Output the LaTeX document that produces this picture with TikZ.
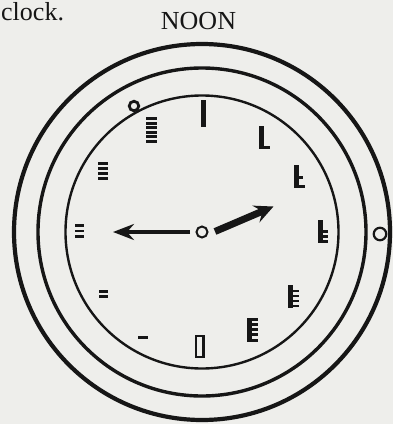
\documentclass[tikz,border=0pt]{standalone}
\usepackage{fontspec}
\setmainfont{Liberation Serif}
\usetikzlibrary{arrows.meta}
\definecolor{paper}{RGB}{238,238,235}
\definecolor{ink}{RGB}{22,22,22}
\begin{document}
\begin{tikzpicture}[x=1pt,y=-1pt,
  ring/.style={draw=ink},
  markfill/.style={fill=ink},
  hand/.style={draw=ink, line cap=butt},
  label/.style={font=\fontsize{26}{30}\selectfont, text=ink, inner sep=0pt}]
\useasboundingbox (0,0) rectangle (393,424);
\fill[paper] (0,0) rectangle (393,424);
% texts
\node[label, anchor=base west] (clocktxt) at (1,20) {clock.};
\node[label, anchor=base] (noon) at (198.5,29) {NOON};
% rings
\coordinate (c) at (202,232);
\draw[ring, line width=4.2] (c) circle[radius=188];
\draw[ring, line width=3.4] (c) circle[radius=164];
\draw[ring, line width=2.4] (c) circle[radius=136.5];
% small circles on rings
\node[circle, draw=ink, line width=2.8, minimum size=9.5, inner sep=0pt] (knobtl) at (134,106) {};
\node[circle, draw=ink, line width=2.2, minimum size=12.5, inner sep=0pt] (knobr) at (380,234) {};
% hour marks
% 12
\fill[markfill] (200.5,100) rectangle (205.5,127);
% 1
\fill[markfill] (259,126) rectangle (264,149);
\fill[markfill] (259,145.5) rectangle (270,149);
% 2
\fill[markfill] (294,165) rectangle (299,188);
\fill[markfill] (294,176) rectangle (303,179);
\fill[markfill] (294,184.5) rectangle (305,188);
% 3
\fill[markfill] (318,220) rectangle (323,243);
\foreach \yy in {230,235.2,240.4} \fill[markfill] (318,\yy) rectangle (327.5,\yy+2.6);
% 4
\fill[markfill] (288,285) rectangle (293,308);
\foreach \yy in {289.5,294.6,299.7,304.8} \fill[markfill] (288,\yy) rectangle (299,\yy+2.6);
% 5
\fill[markfill] (247,318) rectangle (252,342);
\foreach \yy in {318,323.1,328.2,333.3,339.2} \fill[markfill] (247,\yy) rectangle (258,\yy+2.8);
% 6
\draw[ink, line width=2.8] (196,336) rectangle (203.5,357);
% 7
\fill[markfill] (138,336) rectangle (148,339);
% 8
\foreach \yy in {290,295} \fill[markfill] (99,\yy) rectangle (108,\yy+2.8);
% 9
\foreach \yy in {224,229.5,235} \fill[markfill] (75,\yy) rectangle (84,\yy+2.8);
% 10
\foreach \yy in {162,167,172,177} \fill[markfill] (98,\yy) rectangle (108,\yy+3);
% 11
\foreach \yy in {117,121.5,126,130.5,135,139.5} \fill[markfill] (146,\yy) rectangle (157,\yy+3);
% hub and hands
\node[circle, draw=ink, line width=2, minimum size=11, inner sep=0pt] (hub) at (202,232) {};
\coordinate (mstart) at (190,232);
\coordinate (mtip) at (113,232);
\coordinate (hstart) at (215,231.5);
\coordinate (htip) at (273.5,206.5);
\draw[hand, line width=4.6, -{Stealth[length=21pt,width=16pt,inset=7pt]}] (mstart) -- (mtip);
\draw[hand, line width=7, -{Stealth[length=19pt,width=18pt,inset=7pt]}] (hstart) -- (htip);
\end{tikzpicture}
\end{document}
